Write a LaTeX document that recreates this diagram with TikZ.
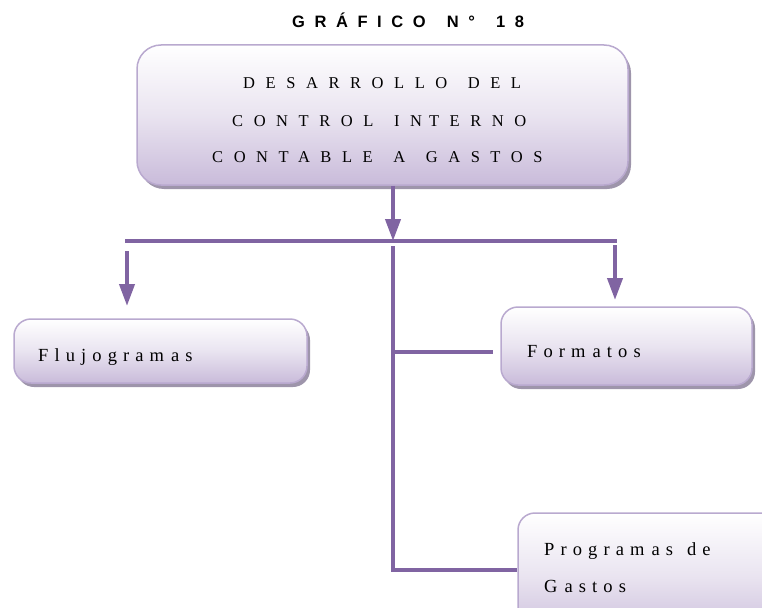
\documentclass[tikz,border=0pt]{standalone}
\usepackage{fontspec}
\setmainfont{Liberation Serif}
\newfontfamily\capsfont[LetterSpace=64,WordSpace=1.4]{Liberation Serif}
\newfontfamily\lowfont[LetterSpace=33,WordSpace=1.3]{Liberation Serif}
\newfontfamily\titlefont[LetterSpace=58,WordSpace=1.5]{Liberation Sans}
\usetikzlibrary{shadows,arrows.meta}

\definecolor{linepurple}{HTML}{8064A2}
\definecolor{boxedge}{HTML}{B9A9CF}
\definecolor{boxfill}{HTML}{C9BBDA}
\definecolor{boxshadow}{HTML}{9E95AB}

\newcommand{\wgap}{\hspace{7pt}}

\tikzset{
  card/.style={draw=boxedge, line width=1.5pt, top color=white, bottom color=boxfill,
    middle color=boxfill!40, inner sep=0pt,
    drop shadow={shadow xshift=3pt, shadow yshift=-4pt, fill=boxshadow, opacity=1}},
  bigcard/.style={card, rounded corners=24pt},
  smallcard/.style={card, rounded corners=17pt},
  capsline/.style={inner sep=0pt, anchor=base west, font=\capsfont\fontsize{16.5}{20}\selectfont},
  lowline/.style={inner sep=0pt, anchor=base west, font=\lowfont\fontsize{18.5}{22}\selectfont},
  link/.style={draw=linepurple, line width=4pt},
  arrowlink/.style={link, -{Triangle[width=15pt,length=22pt]}}
}

\begin{document}
\begin{tikzpicture}[x=1pt,y=-1pt]
\useasboundingbox (0,0) rectangle (762,607);

% title
\node[inner sep=0pt, anchor=base west, font=\titlefont\fontsize{16.5}{20}\bfseries\selectfont]
  (title) at (292,28) {GRÁFICO N° 18};

\begin{scope}
\clip (0,0) rectangle (762,607);
% boxes
\node[bigcard, minimum width=491pt, minimum height=140pt] (main) at (382.5,115) {};
\node[smallcard, minimum width=293pt, minimum height=64pt] (flujo) at (160.5,351) {};
\node[smallcard, minimum width=251pt, minimum height=78pt] (formatos) at (626.5,346) {};
\node[smallcard, minimum width=272pt, minimum height=127pt] (programas) at (654,576.5) {};
\end{scope}

% box texts
\node[capsline] (l1) at (243,89) {DESARROLLO DEL};
\node[capsline] (l2) at (232,126) {CONTROL IN\wgap TERNO};
\node[capsline] (l3) at (212,162) {CONTABLE A GASTOS};
\node[lowline] (tflujo) at (38,361) {Flujogram\wgap as};
\node[lowline] (tformatos) at (527,357) {Form\wgap atos};
\node[lowline] (tprog1) at (544,555) {Program\wgap as de};
\node[lowline] (tprog2) at (544,592) {G\wgap astos};

% connector points
\coordinate (hub) at (393,241);
\coordinate (barL) at (125,241);
\coordinate (barR) at (617,241);
\coordinate (leftTop) at (127,251);
\coordinate (leftTip) at (127,306);
\coordinate (rightTop) at (615,245);
\coordinate (rightTip) at (615,300);
\coordinate (trunkTop) at (393,246);
\coordinate (formJoin) at (393,352);
\coordinate (formEnd) at (493,352);
\coordinate (trunkEnd) at (393,570);

% connectors
\draw[arrowlink] (main.south -| hub) -- (hub);
\draw[link] (barL) -- (barR);
\draw[arrowlink] (leftTop) -- (leftTip);
\draw[arrowlink] (rightTop) -- (rightTip);
\draw[link] (trunkTop) -- (trunkEnd) -- (trunkEnd -| programas.west);
\draw[link] (formJoin) -- (formEnd);
\end{tikzpicture}
\end{document}
